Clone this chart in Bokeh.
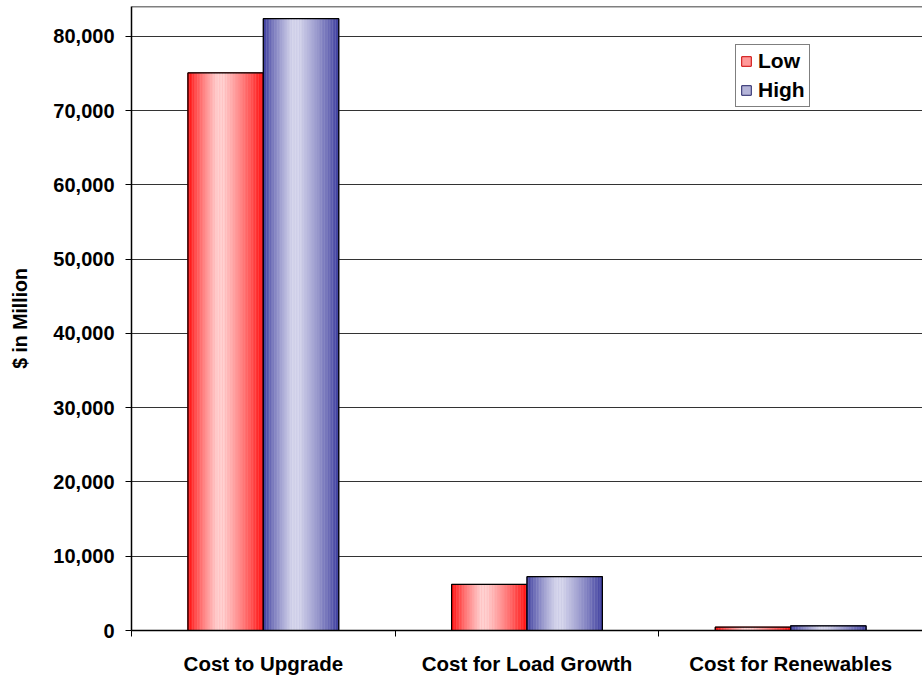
from bokeh.plotting import figure
from bokeh.models import (Range1d, FixedTicker, NumeralTickFormatter, Legend,
                          LegendItem, Span, ColumnDataSource)
from bokeh.embed import file_html
from bokeh.resources import INLINE

# ---- data ----
categories = ["Cost to Upgrade", "Cost for Load Growth", "Cost for Renewables"]
series_names = ["Low", "High"]
low_values = [75100, 6200, 450]
high_values = [82400, 7250, 630]
y_ticks = [0, 10000, 20000, 30000, 40000, 50000, 60000, 70000, 80000]

# ---- style ----
FONT = "Liberation Sans"
Y_END = 84040
BAR_W = 0.286
N_STRIPS = 48
dark_cols = {"Low": (255, 0, 0), "High": (51, 51, 153)}
light_cols = {"Low": (255, 208, 208), "High": (214, 214, 236)}
swatch_cols = {"Low": "#FF9999", "High": "#B4B4D8"}
swatch_line = {"Low": "#CC0000", "High": "#222266"}
PEAK = 0.42

p = figure(width=922, height=681, output_backend="svg", toolbar_location=None,
           x_range=Range1d(0, len(categories)), y_range=Range1d(0, Y_END),
           min_border_left=131, min_border_right=0, min_border_top=6,
           min_border_bottom=51)
p.background_fill_color = "white"
p.border_fill_color = "white"
p.outline_line_color = None


def mix(c1, c2, m):
    return "#%02x%02x%02x" % tuple(int(round(a + (b - a) * m)) for a, b in zip(c1, c2))


legend_items = []
for si, (name, vals) in enumerate(zip(series_names, [low_values, high_values])):
    offset = (si - 0.5) * BAR_W
    centers = [i + 0.5 + offset for i in range(len(categories))]
    # base bar (used for legend swatch)
    base = p.vbar(x=centers, top=vals, width=BAR_W, bottom=0,
                  fill_color=swatch_cols[name], line_color=swatch_line[name])
    legend_items.append(LegendItem(label=name, renderers=[base]))
    # gradient strips
    xs, tops, cols = [], [], []
    sw = BAR_W / N_STRIPS
    for c, v in zip(centers, vals):
        left = c - BAR_W / 2
        for k in range(N_STRIPS):
            t = (k + 0.5) / N_STRIPS
            s = t / PEAK if t < PEAK else (1 - t) / (1 - PEAK)
            m = min(1.0, s ** 0.8 * 1.08)
            xs.append(left + (k + 0.5) * sw)
            tops.append(v)
            cols.append(mix(dark_cols[name], light_cols[name], m))
    src = ColumnDataSource(dict(x=xs, top=tops, color=cols))
    p.vbar(x="x", top="top", width=sw * 1.05, bottom=0, source=src,
           fill_color="color", line_color=None)
    # outline
    p.vbar(x=centers, top=vals, width=BAR_W, bottom=0,
           fill_color=None, line_color="black", line_width=1.2)

# top border
p.add_layout(Span(location=Y_END, dimension="width", line_color="black", line_width=1.5))

# grid
p.xgrid.grid_line_color = None
p.ygrid.grid_line_color = "#333333"
p.ygrid.grid_line_width = 1.2
p.ygrid.ticker = FixedTicker(ticks=y_ticks)

# y axis
p.yaxis.ticker = FixedTicker(ticks=y_ticks, minor_ticks=[])
p.yaxis.formatter = NumeralTickFormatter(format="0,0")
p.yaxis.axis_label = "$ in Million"
p.yaxis.axis_label_text_font = FONT
p.yaxis.axis_label_text_font_style = "bold"
p.yaxis.axis_label_text_font_size = "19.5px"
p.yaxis.axis_label_text_color = "black"
p.yaxis.axis_label_standoff = 19
p.yaxis.major_label_text_font = FONT
p.yaxis.major_label_text_font_style = "bold"
p.yaxis.major_label_text_font_size = "20px"
p.yaxis.major_label_text_color = "black"
p.yaxis.major_label_standoff = 11
p.yaxis.major_tick_out = 6
p.yaxis.major_tick_in = 0
p.yaxis.axis_line_color = "black"
p.yaxis.axis_line_width = 1.5
p.yaxis.major_tick_line_color = "black"

# x axis
p.xaxis.ticker = FixedTicker(ticks=[i + 0.5 for i in range(len(categories))],
                             minor_ticks=list(range(len(categories) + 1)))
p.xaxis.major_label_overrides = {i + 0.5: c for i, c in enumerate(categories)}
p.xaxis.major_tick_out = 0
p.xaxis.major_tick_in = 0
p.xaxis.minor_tick_out = 6
p.xaxis.minor_tick_in = 0
p.xaxis.minor_tick_line_color = "black"
p.xaxis.axis_line_color = "black"
p.xaxis.axis_line_width = 1.5
p.xaxis.major_label_text_font = FONT
p.xaxis.major_label_text_font_style = "bold"
p.xaxis.major_label_text_font_size = "20.5px"
p.xaxis.major_label_text_color = "black"
p.xaxis.major_label_standoff = 15

legend = Legend(items=legend_items, location=(604, 523))
legend.border_line_color = "black"
legend.border_line_width = 1
legend.background_fill_color = "white"
legend.background_fill_alpha = 1
legend.label_text_font = FONT
legend.label_text_font_style = "bold"
legend.label_text_font_size = "21px"
legend.label_text_color = "black"
legend.glyph_width = 12
legend.glyph_height = 12
legend.label_standoff = 6
legend.spacing = 5
legend.padding = 4
legend.margin = 0
p.add_layout(legend, "center")

open("out.html", "w").write(file_html(p, INLINE))
